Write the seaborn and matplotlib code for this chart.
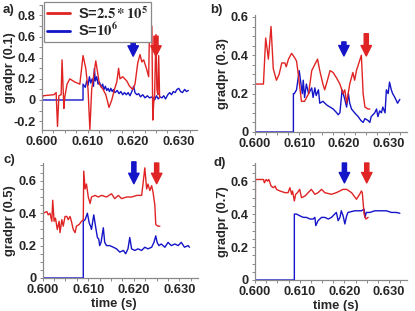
import matplotlib
matplotlib.use("Agg")
import matplotlib.pyplot as plt
import seaborn as sns
from matplotlib.ticker import MultipleLocator, FuncFormatter

# ---------------- data (time in s, gradpr) ----------------
# panel a) gradpr(0.1)
t_red_a = [0.6000, 0.6002, 0.6026, 0.6031, 0.6034, 0.6037, 0.6042, 0.6044, 0.6048, 0.6050,
           0.6055, 0.6061, 0.6072, 0.6083, 0.6090, 0.6096, 0.6101, 0.6105, 0.6109, 0.6118,
           0.6126, 0.6134, 0.6140, 0.6147, 0.6153, 0.6159, 0.6164, 0.6168, 0.6171, 0.6177,
           0.6186, 0.6192, 0.6199, 0.6204, 0.6210, 0.6215, 0.6219, 0.6223, 0.6229, 0.6234,
           0.6236, 0.6238, 0.6241, 0.6243, 0.6245, 0.6247, 0.6250, 0.6252, 0.6254, 0.6256,
           0.6258]
g_red_a = [0.00, 0.04, 0.05, 0.07, -0.25, 0.04, 0.05, 0.38, -0.08, 0.03,
           0.15, 0.20, 0.17, 0.15, 0.42, 0.30, 0.10, -0.28, 0.10, 0.37,
           0.15, 0.10, 0.05, -0.07, 0.00, 0.10, 0.17, 0.30, 0.20, 0.22,
           0.18, 0.13, 0.10, 0.15, 0.35, 0.43, 0.36, 0.38, 0.30, 0.22,
           0.72, 0.55, 0.70, -0.19, -0.03, 0.05, 0.62, 0.10, 0.05, 0.42,
           0.02]
t_blue_a = [0.6000, 0.6090, 0.6090, 0.6095, 0.6098, 0.6101, 0.6104, 0.6107, 0.6110, 0.6113,
            0.6115, 0.6117, 0.6120, 0.6123, 0.6126, 0.6130, 0.6133, 0.6136, 0.6139, 0.6142,
            0.6145, 0.6148, 0.6151, 0.6154, 0.6157, 0.6160, 0.6165, 0.6169, 0.6173, 0.6177,
            0.6181, 0.6185, 0.6189, 0.6193, 0.6197, 0.6201, 0.6204, 0.6208, 0.6212, 0.6216,
            0.6221, 0.6226, 0.6231, 0.6236, 0.6242, 0.6247, 0.6251, 0.6255, 0.6259, 0.6263,
            0.6267, 0.6271, 0.6276, 0.6280, 0.6284, 0.6288, 0.6292, 0.6296, 0.6300, 0.6304,
            0.6308, 0.6313, 0.6317, 0.6321]
g_blue_a = [0.00, 0.00, 0.15, 0.12, 0.18, 0.14, 0.22, 0.16, 0.20, 0.13,
            0.30, 0.18, 0.22, 0.15, 0.17, 0.12, 0.15, 0.10, 0.13, 0.09,
            0.11, 0.08, 0.11, 0.08, 0.10, 0.07, 0.09, 0.06, 0.08, 0.05,
            0.07, 0.05, 0.07, 0.04, 0.08, 0.13, 0.07, 0.05, 0.06, 0.03,
            0.05, 0.02, 0.04, 0.02, 0.03, 0.00, 0.04, 0.01, 0.03, 0.02,
            0.04, 0.01, 0.05, 0.07, 0.05, 0.08, 0.07, 0.10, 0.11, 0.08,
            0.07, 0.10, 0.08, 0.09]

# panel b) gradpr(0.3)
t_red_b = [0.6000, 0.6001, 0.6020, 0.6025, 0.6029, 0.6031, 0.6037, 0.6042, 0.6049, 0.6055,
           0.6061, 0.6068, 0.6071, 0.6076, 0.6083, 0.6089, 0.6094, 0.6098, 0.6105, 0.6112,
           0.6121, 0.6128, 0.6141, 0.6146, 0.6153, 0.6157, 0.6162, 0.6169, 0.6176, 0.6184,
           0.6191, 0.6198, 0.6202, 0.6206, 0.6213, 0.6220, 0.6224, 0.6228, 0.6239, 0.6243,
           0.6247, 0.6254, 0.6258]
g_red_b = [0.00, 0.25, 0.25, 0.49, 0.42, 0.38, 0.55, 0.33, 0.27, 0.30,
           0.36, 0.36, 0.34, 0.38, 0.41, 0.39, 0.37, 0.30, 0.16, 0.16,
           0.20, 0.32, 0.38, 0.32, 0.25, 0.22, 0.26, 0.32, 0.31, 0.28,
           0.25, 0.20, 0.22, 0.15, 0.25, 0.31, 0.27, 0.32, 0.40, 0.20,
           0.13, 0.12, 0.12]
t_blue_b = [0.6000, 0.6087, 0.6087, 0.6089, 0.6094, 0.6100, 0.6104, 0.6107, 0.6109, 0.6112,
            0.6116, 0.6121, 0.6128, 0.6131, 0.6135, 0.6138, 0.6143, 0.6146, 0.6153, 0.6162,
            0.6169, 0.6176, 0.6184, 0.6187, 0.6191, 0.6196, 0.6202, 0.6206, 0.6210, 0.6213,
            0.6217, 0.6224, 0.6232, 0.6238, 0.6243, 0.6247, 0.6254, 0.6258, 0.6261, 0.6269,
            0.6273, 0.6276, 0.6280, 0.6284, 0.6287, 0.6292, 0.6295, 0.6299, 0.6302, 0.6306,
            0.6309, 0.6314, 0.6320, 0.6325]
g_blue_b = [0.00, 0.00, 0.20, 0.20, 0.22, 0.32, 0.25, 0.20, 0.27, 0.18,
            0.25, 0.20, 0.23, 0.18, 0.23, 0.19, 0.22, 0.15, 0.16, 0.14,
            0.13, 0.12, 0.10, 0.09, 0.10, 0.22, 0.17, 0.13, 0.20, 0.15,
            0.12, 0.10, 0.08, 0.06, 0.05, 0.07, 0.06, 0.05, 0.08, 0.10,
            0.12, 0.08, 0.11, 0.10, 0.13, 0.10, 0.22, 0.20, 0.26, 0.22,
            0.20, 0.18, 0.15, 0.17]

# panel c) gradpr(0.5)
t_red_c = [0.6000, 0.6001, 0.6009, 0.6012, 0.6016, 0.6020, 0.6022, 0.6025, 0.6028, 0.6032,
           0.6036, 0.6038, 0.6042, 0.6045, 0.6049, 0.6053, 0.6056, 0.6060, 0.6063, 0.6067,
           0.6071, 0.6074, 0.6080, 0.6085, 0.6089, 0.6090, 0.6093, 0.6096, 0.6100, 0.6104,
           0.6107, 0.6115, 0.6122, 0.6129, 0.6140, 0.6151, 0.6158, 0.6166, 0.6173, 0.6184,
           0.6195, 0.6206, 0.6217, 0.6220, 0.6224, 0.6228, 0.6231, 0.6235, 0.6239, 0.6242,
           0.6246, 0.6248, 0.6253, 0.6257]
g_red_c = [0.00, 0.40, 0.41, 0.39, 0.40, 0.35, 0.48, 0.35, 0.37, 0.30,
           0.35, 0.28, 0.36, 0.32, 0.38, 0.38, 0.36, 0.38, 0.35, 0.30,
           0.28, 0.32, 0.33, 0.35, 0.36, 0.66, 0.55, 0.58, 0.50, 0.46,
           0.50, 0.51, 0.50, 0.51, 0.50, 0.52, 0.49, 0.51, 0.49, 0.50,
           0.50, 0.51, 0.51, 0.58, 0.68, 0.55, 0.58, 0.54, 0.57, 0.53,
           0.45, 0.33, 0.32, 0.32]
t_blue_c = [0.6000, 0.6089, 0.6089, 0.6093, 0.6098, 0.6102, 0.6105, 0.6107, 0.6112, 0.6117,
            0.6120, 0.6123, 0.6125, 0.6128, 0.6133, 0.6136, 0.6140, 0.6147, 0.6155, 0.6162,
            0.6169, 0.6177, 0.6182, 0.6187, 0.6191, 0.6195, 0.6202, 0.6209, 0.6217, 0.6224,
            0.6231, 0.6239, 0.6244, 0.6248, 0.6251, 0.6255, 0.6260, 0.6268, 0.6275, 0.6282,
            0.6290, 0.6297, 0.6304, 0.6311, 0.6319, 0.6322]
g_blue_c = [0.00, 0.00, 0.35, 0.36, 0.40, 0.34, 0.32, 0.30, 0.39, 0.30,
            0.25, 0.24, 0.20, 0.22, 0.31, 0.22, 0.20, 0.20, 0.19, 0.18,
            0.16, 0.17, 0.15, 0.18, 0.25, 0.18, 0.17, 0.18, 0.17, 0.19,
            0.18, 0.19, 0.22, 0.26, 0.22, 0.20, 0.21, 0.19, 0.22, 0.20,
            0.21, 0.20, 0.22, 0.19, 0.20, 0.19]

# panel d) gradpr(0.7)
t_red_d = [0.6000, 0.6001, 0.6019, 0.6021, 0.6025, 0.6028, 0.6031, 0.6036, 0.6041, 0.6045,
           0.6048, 0.6056, 0.6067, 0.6074, 0.6078, 0.6082, 0.6084, 0.6088, 0.6091, 0.6095,
           0.6100, 0.6104, 0.6112, 0.6119, 0.6126, 0.6134, 0.6141, 0.6149, 0.6156, 0.6171,
           0.6182, 0.6197, 0.6205, 0.6216, 0.6227, 0.6234, 0.6238, 0.6240, 0.6244, 0.6248,
           0.6253]
g_red_d = [0.00, 0.61, 0.61, 0.59, 0.61, 0.60, 0.61, 0.57, 0.56, 0.57,
           0.55, 0.54, 0.53, 0.53, 0.56, 0.52, 0.54, 0.48, 0.52, 0.53,
           0.55, 0.50, 0.51, 0.53, 0.55, 0.52, 0.53, 0.55, 0.53, 0.52,
           0.53, 0.55, 0.55, 0.53, 0.49, 0.52, 0.54, 0.53, 0.40, 0.37,
           0.38]
t_blue_d = [0.6000, 0.6088, 0.6088, 0.6093, 0.6100, 0.6108, 0.6115, 0.6123, 0.6130, 0.6134,
            0.6136, 0.6141, 0.6149, 0.6156, 0.6164, 0.6171, 0.6182, 0.6186, 0.6190, 0.6193,
            0.6197, 0.6201, 0.6205, 0.6208, 0.6223, 0.6238, 0.6244, 0.6246, 0.6249, 0.6257,
            0.6268, 0.6283, 0.6294, 0.6305, 0.6316, 0.6324]
g_blue_d = [0.00, 0.00, 0.40, 0.40, 0.39, 0.38, 0.38, 0.37, 0.37, 0.38,
            0.33, 0.36, 0.38, 0.38, 0.37, 0.38, 0.41, 0.36, 0.38, 0.42,
            0.39, 0.34, 0.39, 0.41, 0.42, 0.42, 0.43, 0.38, 0.41, 0.41,
            0.42, 0.42, 0.42, 0.41, 0.41, 0.405]

panel_tags = ["a)", "b)", "c)", "d)"]
y_labels = ["gradpr (0.1)", "gradpr (0.3)", "gradpr (0.5)", "gradpr (0.7)"]
series_labels = [r"S=$2.5*10^5$", r"S=$10^6$"]
arrow_times = [0.620, 0.625]
x_ticks = [0.600, 0.610, 0.620, 0.630]

RED = "#e02424"
BLUE = "#1414c8"

# ---------------- style ----------------
sns.set_style("ticks")
plt.rcParams["font.family"] = ["Liberation Sans", "DejaVu Sans"]
plt.rcParams["font.weight"] = "bold"
plt.rcParams["mathtext.fontset"] = "stix"

W, H = 415, 311
fig = plt.figure(figsize=(W / 100, H / 100), dpi=100)


def add_ax(left, top, width, height):
    return fig.add_axes([left / W, 1 - (top + height) / H, width / W, height / H])


layouts = [
    dict(rect=(42, 4.9, 155, 125.2), ylim=(-0.285, 0.9), yticks=[-0.2, 0, 0.2, 0.4, 0.6, 0.8],
         minor=0.1, arrows=[(0.77, 0.59), (0.75, 0.59)], ylab_x=-0.17),
    dict(rect=(254.5, 15, 152, 117), ylim=(0, 0.61), yticks=[0, 0.2, 0.4, 0.6],
         minor=0.05, arrows=[(0.77, 0.65), (0.84, 0.65)], ylab_x=-0.17),
    dict(rect=(42.7, 163, 155, 115), ylim=(0, 0.71), yticks=[0, 0.2, 0.4, 0.6],
         minor=0.05, arrows=[(1.01, 0.82), (1.0, 0.82)], ylab_x=-0.17),
    dict(rect=(255, 163, 152, 117), ylim=(0, 0.71), yticks=[0, 0.2, 0.4, 0.6],
         minor=0.05, arrows=[(1.0, 0.83), (1.0, 0.83)], ylab_x=-0.17),
]
data = [
    (t_red_a, g_red_a, t_blue_a, g_blue_a),
    (t_red_b, g_red_b, t_blue_b, g_blue_b),
    (t_red_c, g_red_c, t_blue_c, g_blue_c),
    (t_red_d, g_red_d, t_blue_d, g_blue_d),
]
tag_pos = [(3, 10), (210, 10), (3, 160), (213, 163)]

yfmt = FuncFormatter(lambda v, p: "0" if abs(v) < 1e-9 else f"{v:.1f}")
xfmt = FuncFormatter(lambda v, p: f"{v:.3f}")

axes = []
for i, (lay, (tr, gr, tb, gb)) in enumerate(zip(layouts, data)):
    ax = add_ax(*lay["rect"])
    axes.append(ax)
    sns.lineplot(x=tb, y=gb, ax=ax, color=BLUE, lw=1.0, estimator=None, sort=False,
                 label=series_labels[1], legend=False)
    sns.lineplot(x=tr, y=gr, ax=ax, color=RED, lw=1.0, estimator=None, sort=False,
                 label=series_labels[0], legend=False)
    ax.set_xlim(0.600, 0.634)
    ax.set_ylim(*lay["ylim"])
    ax.set_xticks(x_ticks)
    ax.set_yticks(lay["yticks"])
    ax.xaxis.set_minor_locator(MultipleLocator(0.0025))
    ax.yaxis.set_minor_locator(MultipleLocator(lay["minor"]))
    ax.xaxis.set_major_formatter(xfmt)
    ax.yaxis.set_major_formatter(yfmt)
    ax.tick_params(which="both", direction="out", length=2.5, width=0.7, color="#8a8a8a",
                   labelsize=9.3, pad=2)
    for s in ["left", "bottom"]:
        ax.spines[s].set_color("#8a8a8a")
        ax.spines[s].set_linewidth(0.9)
    sns.despine(ax=ax)
    ax.set_ylabel(y_labels[i], fontsize=9.3, fontweight="bold")
    ax.yaxis.set_label_coords(lay["ylab_x"], 0.5)
    if i >= 2:
        ax.set_xlabel("time (s)", fontsize=9.3, fontweight="bold")
        ax.xaxis.set_label_coords(0.46 if i == 2 else 0.53, -0.175)
    else:
        ax.set_xlabel("")
    # arrows
    for t_arr, col, (ytop, ybot) in zip(arrow_times, [BLUE, RED], lay["arrows"]):
        ax.annotate("", xy=(t_arr, ybot), xytext=(t_arr, ytop),
                    xycoords=ax.get_xaxis_transform(), textcoords=ax.get_xaxis_transform(),
                    arrowprops=dict(arrowstyle="simple,head_length=0.75,head_width=0.75,tail_width=0.3",
                                    mutation_scale=10, color=col, shrinkA=0, shrinkB=0),
                    annotation_clip=False)
    fig.text(tag_pos[i][0] / W, 1 - tag_pos[i][1] / H, panel_tags[i], fontsize=9.5,
             fontweight="bold", va="center", ha="left")

# legend in panel a
lines = axes[0].get_lines()
red_line = [l for l in lines if l.get_label() == series_labels[0]][0]
blue_line = [l for l in lines if l.get_label() == series_labels[1]][0]
leg = axes[0].legend([red_line, blue_line], series_labels, loc="upper left",
                     bbox_to_anchor=(44 / W, 1 - 2 / H), bbox_transform=fig.transFigure,
                     borderaxespad=0, fontsize=10.5, frameon=True, fancybox=False,
                     framealpha=1, edgecolor="#8a8a8a", handlelength=1.6,
                     handletextpad=0.5, borderpad=0.2, labelspacing=0.0)
leg.get_frame().set_linewidth(0.9)
for h in leg.get_lines():
    h.set_linewidth(2.0)

fig.savefig("out.png", dpi=100)
